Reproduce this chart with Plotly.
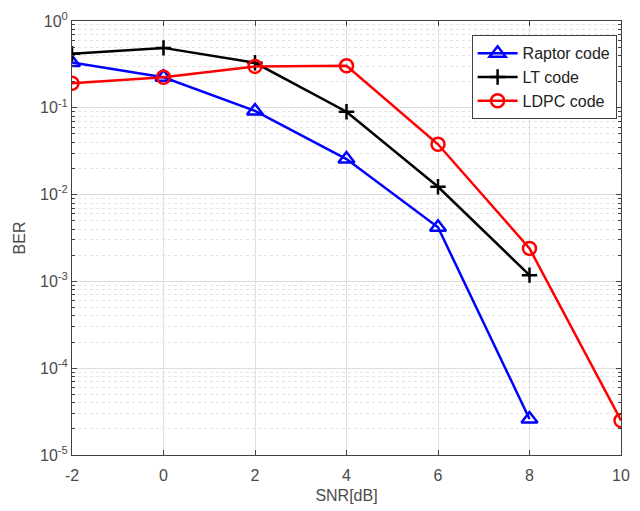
import plotly.graph_objects as go

snr = [-2, 0, 2, 4, 6, 8, 10]
raptor = [0.333, 0.225, 0.092, 0.0257, 0.0042, 2.6e-5]
lt = [0.42, 0.49, 0.33, 0.090, 0.0123, 0.00118]
ldpc = [0.192, 0.225, 0.30, 0.305, 0.038, 0.0024, 2.5e-5]

ytick_vals = [1e-5, 1e-4, 1e-3, 1e-2, 1e-1, 1e0]
ytick_text = ["10<sup>-5</sup>", "10<sup>-4</sup>", "10<sup>-3</sup>", "10<sup>-2</sup>", "10<sup>-1</sup>", "10<sup>0</sup>"]
xtick_vals = [-2, 0, 2, 4, 6, 8, 10]
xtick_text = ["-2", "0", "2", "4", "6", "8", "10"]

fig = go.Figure()
fig.add_trace(go.Scatter(x=snr[:len(raptor)], y=raptor, name="Raptor code", mode="lines+markers",
                         line=dict(color="#0000ff", width=2.5),
                         marker=dict(symbol="triangle-up-open", size=14, line=dict(width=2.5, color="#0000ff"))))
fig.add_trace(go.Scatter(x=snr[:len(lt)], y=lt, name="LT code", mode="lines+markers",
                         line=dict(color="#000000", width=2.5),
                         marker=dict(symbol="cross-thin", size=11, line=dict(width=2.5, color="#000000"))))
fig.add_trace(go.Scatter(x=snr[:len(ldpc)], y=ldpc, name="LDPC code", mode="lines+markers",
                         line=dict(color="#ff0000", width=2.5),
                         marker=dict(symbol="circle-open", size=13, line=dict(width=2.5, color="#ff0000"))))

axis_font = dict(family="Liberation Sans, Arial, sans-serif", size=16, color="#4a4a4a")
fig.update_layout(
    width=640, height=511,
    margin=dict(l=72, r=10, t=15, b=56),
    paper_bgcolor="white", plot_bgcolor="white",
    font=axis_font,
    showlegend=True,
    legend=dict(x=0.992, y=0.967, xanchor="right", yanchor="top",
                bordercolor="#404040", borderwidth=1, bgcolor="white",
                font=dict(family="Liberation Sans, Arial, sans-serif", size=16, color="#222222"),
                tracegroupgap=0, itemwidth=40),
    xaxis=dict(range=[-2, 10], tickvals=xtick_vals, ticktext=xtick_text, ticks="inside", ticklen=5,
               showline=True, linecolor="#404040", linewidth=1, mirror="ticks",
               showgrid=True, gridcolor="#e0e0e0", gridwidth=1, zeroline=False,
               tickfont=axis_font, ticklabelstandoff=6,
               title=dict(text="SNR[dB]", font=axis_font, standoff=6)),
    yaxis=dict(type="log", range=[-5, 0], tickvals=ytick_vals, ticktext=ytick_text,
               ticks="inside", ticklen=5,
               showline=True, linecolor="#404040", linewidth=1, mirror="ticks",
               showgrid=True, gridcolor="#dcdcdc", gridwidth=1, zeroline=False,
               tickfont=axis_font,
               minor=dict(dtick="D1", ticks="inside", ticklen=3, tickcolor="#404040",
                          showgrid=True, gridcolor="#e3e3e3", griddash="dot", gridwidth=1),
               title=dict(text="BER", font=axis_font, standoff=10)),
)
fig.write_html("out.html")
